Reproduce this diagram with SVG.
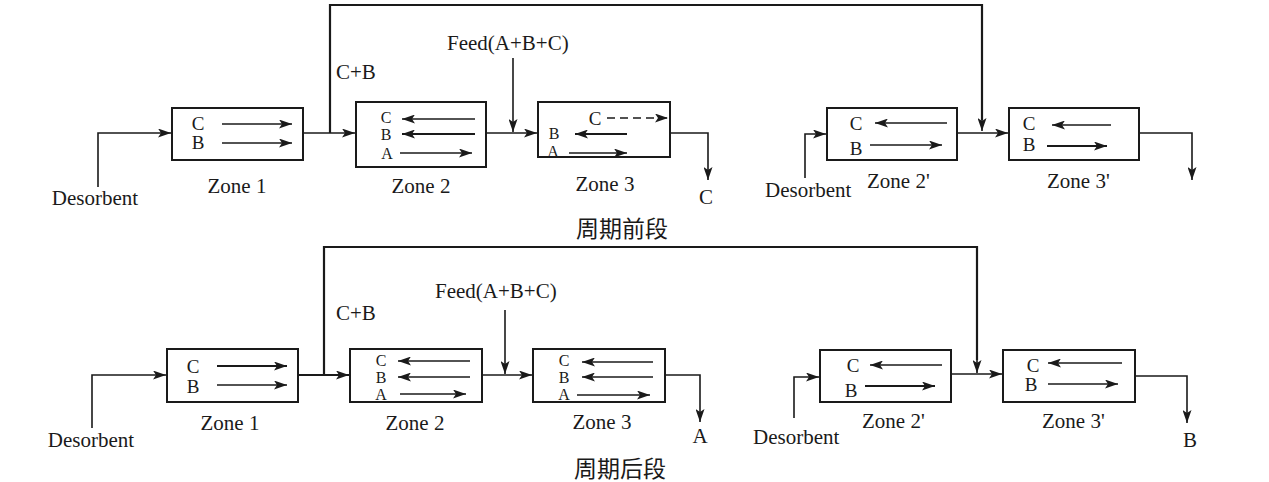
<svg xmlns="http://www.w3.org/2000/svg" width="1269" height="482" viewBox="0 0 1269 482">
<defs>
<marker id="ah" markerUnits="userSpaceOnUse" markerWidth="14" markerHeight="9" refX="13" refY="4.5" orient="auto">
<path d="M0,0 L13,4.5 L0,9 L3,4.5 z" fill="#1a1a1a"/>
</marker>
</defs>
<style>
.box{fill:#fff;stroke:#1a1a1a;stroke-width:2}
.rc{fill:none;stroke:#1a1a1a;stroke-width:2.2}
.ar{fill:none;stroke:#1a1a1a;stroke-width:1.6;marker-end:url(#ah)}
.tk{stroke-width:2.2}
.t{font-family:"Liberation Serif","Times New Roman",serif;font-size:21px;fill:#1a1a1a}
.s{font-family:"Liberation Serif","Times New Roman",serif;font-size:19px;fill:#1a1a1a;text-anchor:middle}
.k{font-family:"Liberation Serif","Times New Roman",serif;font-size:16px;fill:#1a1a1a;text-anchor:middle}
.m{text-anchor:middle}
.cn{font-family:"Noto Sans CJK SC","Noto Sans CJK JP",sans-serif;font-size:23px;fill:#1a1a1a;text-anchor:middle}
</style>
<rect width="1269" height="482" fill="#fff"/>

<g id="connectors">
<path class="ar" d="M98,187 V133 H171"/>
<path class="ar" d="M303,133 H355"/>
<path class="rc" d="M330,133 V5 H982 V120"/>
<path class="ar" d="M982,110 V131"/>
<path class="ar" d="M513,58 V132"/>
<path class="ar" d="M486,133 H537"/>
<path class="ar" d="M670,133 H708 V180"/>
<path class="ar" d="M805,178 V134 H826"/>
<path class="ar" d="M957,133 H1008"/>
<path class="ar" d="M1139,133 H1192 V180"/>
<path class="ar" d="M92,428 V375 H166"/>
<path class="ar tk" d="M298,375 H349"/>
<path class="rc" d="M324,375 V247 H977 V360"/>
<path class="ar" d="M977,350 V373"/>
<path class="ar" d="M505,310 V374"/>
<path class="ar" d="M482,375 H532"/>
<path class="ar" d="M665,375 H700 V422"/>
<path class="ar" d="M794,418 V377 H819"/>
<path class="ar" d="M951,374 H1002"/>
<path class="ar" d="M1135,376 H1187 V423"/>
</g>

<g id="top-zone1">
<rect class="box" x="172" y="108" width="131" height="52"/>
<text class="s" x="198" y="130">C</text>
<text class="s" x="198" y="149">B</text>
<line class="ar" x1="222" y1="124" x2="292" y2="124"/>
<line class="ar" x1="222" y1="143" x2="292" y2="143"/>
<text class="t m" x="237" y="193">Zone 1</text>
</g>

<g id="top-zone2">
<rect class="box" x="356" y="102" width="130" height="65"/>
<text class="k" x="386" y="123">C</text>
<text class="k" x="386" y="140">B</text>
<text class="k" x="387" y="159">A</text>
<line class="ar" x1="475" y1="119" x2="402" y2="119"/>
<line class="ar tk" x1="475" y1="134" x2="402" y2="134"/>
<line class="ar" x1="400" y1="153" x2="472" y2="153"/>
<text class="t m" x="421" y="193">Zone 2</text>
</g>

<g id="top-zone3">
<rect class="box" x="538" y="102" width="132" height="55"/>
<text class="s" x="595" y="125">C</text>
<line class="ar" x1="607" y1="118" x2="668" y2="118" stroke-dasharray="8,5"/>
<text class="k" x="554" y="139">B</text>
<line class="ar tk" x1="627" y1="134" x2="575" y2="134"/>
<text class="k" x="553" y="157">A</text>
<line class="ar" x1="569" y1="153" x2="627" y2="153"/>
<text class="t m" x="605" y="191">Zone 3</text>
</g>

<g id="top-zone2p">
<rect class="box" x="827" y="108" width="130" height="52"/>
<text class="s" x="856" y="130">C</text>
<line class="ar" x1="947" y1="123" x2="875" y2="123"/>
<text class="s" x="856" y="155">B</text>
<line class="ar" x1="870" y1="145" x2="942" y2="145"/>
<text class="t" x="867" y="188">Zone 2'</text>
</g>

<g id="top-zone3p">
<rect class="box" x="1009" y="108" width="130" height="52"/>
<text class="s" x="1029" y="130">C</text>
<line class="ar" x1="1111" y1="125" x2="1052" y2="125"/>
<text class="s" x="1029" y="151">B</text>
<line class="ar tk" x1="1047" y1="146" x2="1107" y2="146"/>
<text class="t" x="1047" y="188">Zone 3'</text>
</g>

<g id="top-labels">
<text class="t m" x="95" y="205">Desorbent</text>
<text class="t" x="336" y="79">C+B</text>
<text class="t" x="447" y="50">Feed(A+B+C)</text>
<text class="t m" x="706" y="204">C</text>
<text class="t" x="765" y="197">Desorbent</text>
<text class="cn" x="622" y="237">周期前段</text>
</g>

<g id="bot-zone1">
<rect class="box" x="167" y="349" width="131" height="53"/>
<text class="s" x="193" y="373">C</text>
<text class="s" x="193" y="393">B</text>
<line class="ar tk" x1="217" y1="366" x2="287" y2="366"/>
<line class="ar" x1="217" y1="385" x2="287" y2="385"/>
<text class="t m" x="230" y="430">Zone 1</text>
</g>

<g id="bot-zone2">
<rect class="box" x="350" y="349" width="132" height="53"/>
<text class="k" x="381" y="366">C</text>
<text class="k" x="381" y="383">B</text>
<text class="k" x="381" y="400">A</text>
<line class="ar" x1="470" y1="361" x2="398" y2="361"/>
<line class="ar" x1="470" y1="377" x2="398" y2="377"/>
<line class="ar" x1="400" y1="394" x2="466" y2="394"/>
<text class="t m" x="415" y="430">Zone 2</text>
</g>

<g id="bot-zone3">
<rect class="box" x="533" y="349" width="132" height="53"/>
<text class="k" x="564" y="366">C</text>
<text class="k" x="564" y="383">B</text>
<text class="k" x="564" y="400">A</text>
<line class="ar" x1="653" y1="362" x2="582" y2="362"/>
<line class="ar" x1="653" y1="377" x2="582" y2="377"/>
<line class="ar" x1="577" y1="395" x2="650" y2="395"/>
<text class="t m" x="602" y="429">Zone 3</text>
</g>

<g id="bot-zone2p">
<rect class="box" x="820" y="350" width="131" height="52"/>
<text class="s" x="853" y="372">C</text>
<line class="ar" x1="942" y1="365" x2="870" y2="365"/>
<text class="s" x="851" y="397">B</text>
<line class="ar tk" x1="865" y1="386" x2="935" y2="386"/>
<text class="t" x="862" y="428">Zone 2'</text>
</g>

<g id="bot-zone3p">
<rect class="box" x="1003" y="350" width="132" height="52"/>
<text class="s" x="1033" y="372">C</text>
<line class="ar" x1="1122" y1="363" x2="1048" y2="363"/>
<text class="s" x="1031" y="391">B</text>
<line class="ar" x1="1048" y1="384" x2="1118" y2="384"/>
<text class="t" x="1042" y="428">Zone 3'</text>
</g>

<g id="bot-labels">
<text class="t m" x="91" y="447">Desorbent</text>
<text class="t" x="336" y="320">C+B</text>
<text class="t" x="435" y="298">Feed(A+B+C)</text>
<text class="t m" x="700" y="443">A</text>
<text class="t" x="753" y="444">Desorbent</text>
<text class="t m" x="1190" y="447">B</text>
<text class="cn" x="620" y="477">周期后段</text>
</g>
</svg>
